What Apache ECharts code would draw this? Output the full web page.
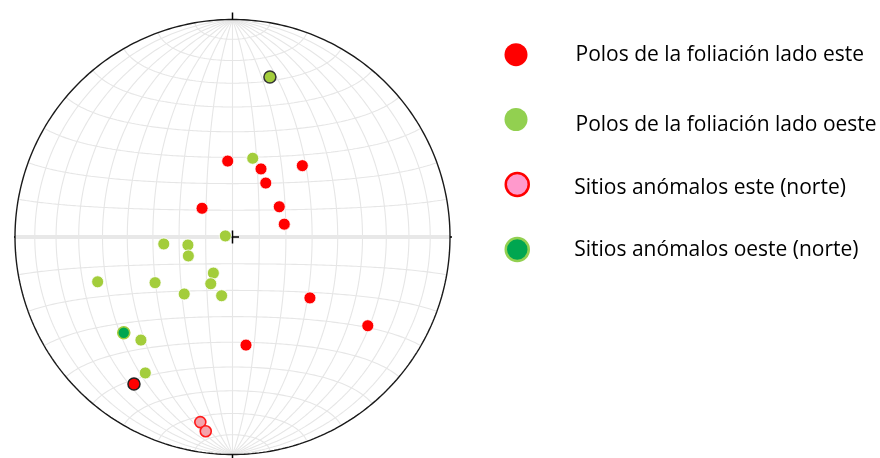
<!DOCTYPE html>
<html><head><meta charset="utf-8">
<script src="https://cdn.jsdelivr.net/npm/echarts@6/dist/echarts.min.js"></script>
<style>html,body{margin:0;padding:0;background:#fff}#c{width:880px;height:458px}</style>
</head><body><div id="c"></div>
<script>
// Point positions in the equal-area (Schmidt) net, normalised to the primitive circle (radius 1)
const polosEste = [[-0.022,0.349],[0.131,0.313],[0.321,0.328],[0.153,0.248],[-0.140,0.132],[0.215,0.139],[0.238,0.059],[0.356,-0.280],[0.622,-0.408],[0.062,-0.497]];
const polosEsteResaltado = [[-0.453,-0.676]];
const polosOeste = [[0.093,0.362],[-0.033,0.005],[-0.316,-0.032],[-0.205,-0.037],[-0.203,-0.087],[-0.088,-0.166],[-0.620,-0.206],[-0.356,-0.210],[-0.100,-0.215],[-0.222,-0.262],[-0.050,-0.270],[-0.421,-0.474],[-0.401,-0.625]];
const polosOesteResaltado = [[0.172,0.736]];
const anomalosEste = [[-0.148,-0.851],[-0.123,-0.893]];
const anomalosOeste = [[-0.500,-0.440]];
const legendNames = ['Polos de la foliación lado este','Polos de la foliación lado oeste','Sitios anómalos este (norte)','Sitios anómalos oeste (norte)'];
const gridStep = 10; // degrees between net lines

const R = 217.5; // pixel radius of the primitive
const d2r = Math.PI/180;
function proj(latDeg, lonDeg){ // Lambert azimuthal equal-area, centre (0,0), normalised
  const p = latDeg*d2r, l = lonDeg*d2r;
  const k = Math.sqrt(2/(1+Math.cos(p)*Math.cos(l)));
  return [k*Math.cos(p)*Math.sin(l)/Math.SQRT2, k*Math.sin(p)/Math.SQRT2];
}
const series = [];
const gridStyle = {color:'#e6e6e6', width:1.1};
function addLine(pts, style, z){
  series.push({type:'line', data:pts, showSymbol:false, symbol:'none', silent:true, animation:false,
    lineStyle:style, z:z||1, clip:false});
}
for(let lon=-90+gridStep; lon<90; lon+=gridStep){
  const pts=[]; for(let lat=-90; lat<=90; lat+=1) pts.push(proj(lat,lon));
  addLine(pts, gridStyle, 1);
}
for(let lat=-90+gridStep; lat<90; lat+=gridStep){
  if(lat===0) continue;
  const pts=[]; for(let lon=-90; lon<=90; lon+=1) pts.push(proj(lat,lon));
  addLine(pts, gridStyle, 1);
}
addLine([[-1,0],[1,0]], {color:'#e8e8e8', width:4}, 2);
{ const pts=[]; for(let a=0;a<=360;a+=1) pts.push([Math.cos(a*d2r), Math.sin(a*d2r)]); addLine(pts,{color:'#1a1a1a',width:1.4},3); }
const t = 7/R, c = 6.5/R;
addLine([[0,1],[0,1+t]],{color:'#000',width:1.5},3);
addLine([[0,-1],[0,-1-t]],{color:'#000',width:1.5},3);
addLine([[1,0],[1+t,0]],{color:'#000',width:1.5},3);
addLine([[-1,0],[-1-t,0]],{color:'#000',width:1.5},3);
addLine([[0,-c],[0,c]],{color:'#000',width:1.5},3);
addLine([[-c,0],[c,0]],{color:'#000',width:1.5},3);

const RED='#ff0000', GREEN='#a3cd3b';
series.push({name:legendNames[0], type:'scatter', data:polosEste, symbolSize:12, z:5,
  itemStyle:{color:RED, borderColor:'#fff', borderWidth:0.8, opacity:1}});
series.push({name:legendNames[0]+' *', type:'scatter', data:polosEsteResaltado, symbolSize:12, z:5,
  itemStyle:{color:RED, borderColor:'#222', borderWidth:1.5, opacity:1}});
series.push({name:legendNames[1], type:'scatter', data:polosOeste, symbolSize:12, z:5,
  itemStyle:{color:GREEN, borderColor:'#fff', borderWidth:0.8, opacity:1}});
series.push({name:legendNames[1]+' *', type:'scatter', data:polosOesteResaltado, symbolSize:12, z:5,
  itemStyle:{color:GREEN, borderColor:'#333', borderWidth:1.5, opacity:1}});
series.push({name:legendNames[2], type:'scatter', data:anomalosEste, symbolSize:11, z:6,
  itemStyle:{color:'#f4a3ab', borderColor:'#ff1a1a', borderWidth:1.6, opacity:1}});
series.push({name:legendNames[3], type:'scatter', data:anomalosOeste, symbolSize:12, z:6,
  itemStyle:{color:'#00a650', borderColor:'#a3cd3b', borderWidth:1.6, opacity:1}});

// one legend block per entry: icon centre y, text drop below icon centre, text gap
function legendBlock(i, fill, border, bw, cy, dy, padL){
  return {orient:'vertical', left:504.5, top:cy-11.5, padding:0, itemWidth:23, itemHeight:23,
    selectedMode:false,
    formatter: dy>0 ? '{s| }\n{t|{name}}' : '{t|{name}}',
    textStyle:{fontFamily:'Open Sans', fontSize:21, color:'#000',
      rich:{s:{lineHeight:2*dy, fontSize:1}, t:{fontFamily:'Open Sans', fontSize:21, color:'#000', lineHeight:23, padding:[0,0,0,padL]}}},
    data:[{name:legendNames[i], icon:'circle', itemStyle:{color:fill, borderColor:border, borderWidth:bw}}]};
}
const chart = echarts.init(document.getElementById('c'), null, {renderer:'canvas'});
chart.setOption({
  animation:false,
  backgroundColor:'#fff',
  grid:{left:232.5-R, top:237-R, width:2*R, height:2*R},
  xAxis:{type:'value', min:-1, max:1, show:false},
  yAxis:{type:'value', min:-1, max:1, show:false},
  legend:[
    legendBlock(0, RED, RED, 0, 54.7, 0, 43),
    legendBlock(1, '#92d050', '#92d050', 0, 119, 6, 43),
    legendBlock(2, '#ff99cc', '#ff0000', 2.5, 183.3, 3, 40.5),
    legendBlock(3, '#00a650', '#92d050', 2.5, 248.3, 0, 40.5)
  ],
  series:series
});
</script></body></html>
